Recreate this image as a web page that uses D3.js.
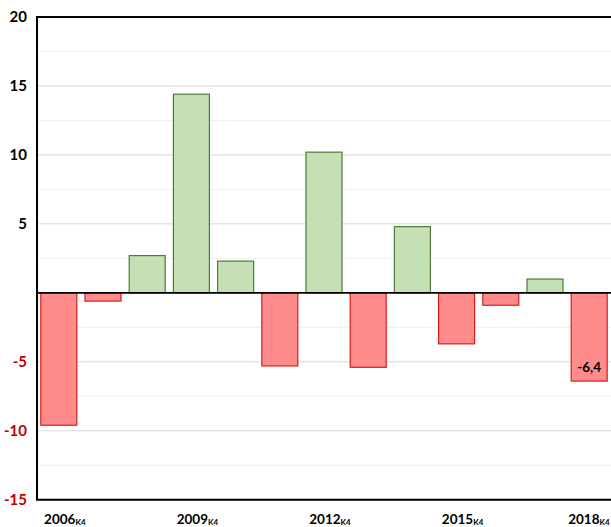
<!DOCTYPE html>
<html>
<head>
<meta charset="utf-8">
<script src="https://cdn.jsdelivr.net/npm/d3@7"></script>
<style>
  html, body { margin: 0; padding: 0; background: #fff; }
  svg { display: block; font-family: Lato, "Open Sans", sans-serif; }
</style>
</head>
<body>
<svg id="chart" width="611" height="527"></svg>
<script>
const years = ["2006", "2007", "2008", "2009", "2010", "2011", "2012", "2013", "2014", "2015", "2016", "2017", "2018"];
const values = [-9.6, -0.6, 2.7, 14.4, 2.3, -5.3, 10.2, -5.4, 4.8, -3.7, -0.9, 1.0, -6.4];
const shownYears = ["2006", "2009", "2012", "2015", "2018"];
const yTicks = [20, 15, 10, 5, -5, -10, -15];
const minorTicks = [17.5, 12.5, 7.5, 2.5, -2.5, -7.5, -12.5];

const plot = { left: 37, right: 611, top: 17, bottom: 499.7 };

const svg = d3.select("#chart");

const x = d3.scaleBand()
    .domain(years)
    .range([plot.left, plot.right])
    .paddingInner(0.163)
    .paddingOuter(0.075);

const y = d3.scaleLinear()
    .domain([-15, 20])
    .range([plot.bottom, plot.top]);

// gridlines
svg.append("g")
    .selectAll("line")
    .data(minorTicks)
    .enter().append("line")
    .attr("x1", plot.left).attr("x2", plot.right)
    .attr("y1", d => y(d)).attr("y2", d => y(d))
    .attr("stroke", "#efefef")
    .attr("stroke-width", 1);

svg.append("g")
    .selectAll("line")
    .data([15, 10, 5, -5, -10])
    .enter().append("line")
    .attr("x1", plot.left).attr("x2", plot.right)
    .attr("y1", d => y(d)).attr("y2", d => y(d))
    .attr("stroke", "#d9d9d9")
    .attr("stroke-width", 1);

// bars
svg.append("g")
    .selectAll("rect")
    .data(values)
    .enter().append("rect")
    .attr("x", (d, i) => x(years[i]) + 0.5)
    .attr("width", x.bandwidth() - 1)
    .attr("y", d => y(Math.max(0, d)))
    .attr("height", d => Math.abs(y(d) - y(0)))
    .attr("fill", d => d >= 0 ? "#c5e0b4" : "#ff8b8b")
    .attr("stroke", d => d >= 0 ? "#4f7a38" : "#d81c1c")
    .attr("stroke-width", 1.2);

// zero line
svg.append("line")
    .attr("x1", plot.left).attr("x2", plot.right)
    .attr("y1", y(0)).attr("y2", y(0))
    .attr("stroke", "#000")
    .attr("stroke-width", 1.6);

// frame
svg.append("line")
    .attr("x1", plot.left).attr("x2", plot.right)
    .attr("y1", plot.top).attr("y2", plot.top)
    .attr("stroke", "#000").attr("stroke-width", 2);
svg.append("line")
    .attr("x1", plot.left).attr("x2", plot.right)
    .attr("y1", plot.bottom).attr("y2", plot.bottom)
    .attr("stroke", "#000").attr("stroke-width", 2);
svg.append("line")
    .attr("x1", plot.left).attr("x2", plot.left)
    .attr("y1", plot.top - 1).attr("y2", plot.bottom + 1)
    .attr("stroke", "#000").attr("stroke-width", 2);

// y labels
svg.append("g")
    .selectAll("text")
    .data(yTicks)
    .enter().append("text")
    .attr("x", 27)
    .attr("y", d => y(d))
    .attr("dy", "0.35em")
    .attr("text-anchor", "end")
    .attr("font-size", 15)
    .attr("font-weight", "bold")
    .attr("fill", d => d < 0 ? "#c00000" : "#000")
    .text(d => d);

// x labels
const xl = svg.append("g")
    .selectAll("text")
    .data(shownYears)
    .enter().append("text")
    .attr("x", d => x(d) + x.bandwidth() / 2 + 6)
    .attr("y", 524)
    .attr("text-anchor", "middle")
    .attr("font-size", 13.5)
    .attr("font-weight", "bold")
    .attr("fill", "#000");
xl.append("tspan").text(d => d);
xl.append("tspan").attr("font-size", 8).attr("dy", 1).text("K4");

// keep labels inside the right edge
xl.each(function () {
    const b = this.getBBox();
    const over = b.x + b.width - 610;
    if (over > 0) d3.select(this).attr("x", +d3.select(this).attr("x") - over);
});

// last value label
const lastIdx = values.length - 1;
svg.append("text")
    .attr("x", x(years[lastIdx]) + x.bandwidth() / 2)
    .attr("y", y(values[lastIdx]) - 9)
    .attr("text-anchor", "middle")
    .attr("font-size", 13.5)
    .attr("font-weight", "bold")
    .attr("fill", "#000")
    .text(values[lastIdx].toFixed(1).replace(".", ","));
</script>
</body>
</html>
